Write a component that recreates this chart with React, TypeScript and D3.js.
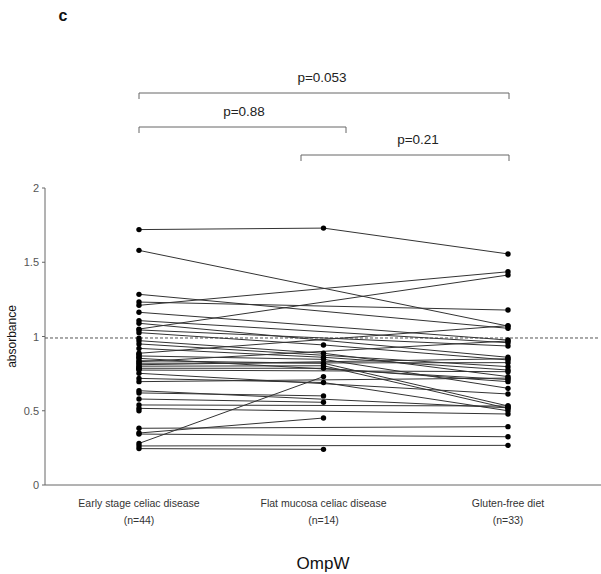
import React from "react";
import * as d3 from "d3";

const groups = ["Early stage celiac disease", "Flat mucosa celiac disease", "Gluten-free diet"];
const groupN = ["(n=44)", "(n=14)", "(n=33)"];
const yTicks = [0, 0.5, 1, 1.5, 2];
const yTickLabels = ["0", "0.5", "1", "1.5", "2"];
const cutoff = 0.99;

const early = [1.72, 1.58, 1.284, 1.232, 1.21, 1.163, 1.107, 1.089, 1.05, 1.044, 1.026, 0.988, 0.972, 0.95, 0.92, 0.887, 0.869, 0.853, 0.837, 0.82, 0.80, 0.786, 0.774, 0.752, 0.718, 0.696, 0.635, 0.62, 0.579, 0.539, 0.516, 0.50, 0.382, 0.35, 0.343, 0.28, 0.263, 0.245, 0.81, 0.79, 0.83, 0.86, 0.78, 0.88];
const flat = [1.73, null, null, null, null, null, null, null, null, null, 0.943, null, 0.887, null, 0.86, null, 0.846, null, 0.82, null, 0.803, 0.786, null, null, 0.69, null, null, 0.60, 0.557, null, null, null, null, 0.451, null, 0.73, null, 0.24, null, null, null, null, null, null];
const gf = [1.556, 1.07, 1.055, 1.178, 1.436, 0.976, 0.958, 0.86, 1.414, 0.936, 0.842, null, 0.73, 0.797, 0.774, 1.073, 0.651, 0.71, 0.532, 0.824, 0.516, 0.696, 0.763, 0.613, 0.50, 0.72, 0.52, null, null, 0.532, 0.478, null, 0.393, null, 0.325, null, 0.267, null, 0.85, null, 0.97, null, null, null];

const comparisons = [
  { from: 0, to: 2, label: "p=0.053", level: 0 },
  { from: 0, to: 1, label: "p=0.88", level: 1 },
  { from: 1, to: 2, label: "p=0.21", level: 2 },
];

export default function App() {
  const W = 601, H = 574;
  const x = d3.scalePoint<number>().domain([0, 1, 2]).range([139, 508]);
  const y = d3.scaleLinear().domain([0, 2]).range([485, 188]);
  const axisX = 45;
  const font = "Liberation Sans, Arial, sans-serif";

  const subjects = early.map((e, i) => {
    const pts: [number, number][] = [];
    const vals = [e, flat[i], gf[i]];
    vals.forEach((v, g) => { if (v != null) pts.push([x(g)!, y(v as number)]); });
    return pts;
  });
  const line = d3.line();

  const bracketY = [93, 127, 155];
  const bracketEnds: [number, number][] = [[139, 509], [139, 346], [301, 509]];
  const labelX = [322, 244, 418];

  return (
    <svg width={W} height={H} style={{ position: "absolute", left: 0, top: 0, background: "#fff" }} fontFamily={font}>
      <text x={63} y={21} fontSize={16} fontWeight="bold" textAnchor="middle" fill="#111">c</text>

      {comparisons.map((c, i) => {
        const [x1, x2] = bracketEnds[i];
        const by = bracketY[c.level];
        return (
          <g key={i}>
            <path d={`M${x1},${by + 6}V${by}H${x2}V${by + 6}`} fill="none" stroke="#666" strokeWidth={1} />
            <text x={labelX[i]} y={by - 11} fontSize={13.5} textAnchor="middle" fill="#222">{c.label}</text>
          </g>
        );
      })}

      {/* axes */}
      <line x1={axisX} x2={axisX} y1={y(2)} y2={y(0)} stroke="#666" />
      <line x1={axisX} x2={601} y1={y(0)} y2={y(0)} stroke="#666" />
      {yTicks.map((t, i) => (
        <g key={t}>
          <line x1={axisX - 3} x2={axisX} y1={y(t)} y2={y(t)} stroke="#666" />
          <text x={39} y={y(t) + 4} fontSize={11} textAnchor="end" fill="#555">{yTickLabels[i]}</text>
        </g>
      ))}
      <text transform={`translate(16,${y(1)}) rotate(-90)`} fontSize={12} textAnchor="middle" fill="#111">absorbance</text>

      <line x1={axisX} x2={598} y1={y(cutoff)} y2={y(cutoff)} stroke="#555" strokeDasharray="3,2" strokeWidth={1} />

      {subjects.map((pts, i) => pts.length > 1 ? (
        <path key={i} d={line(pts)!} fill="none" stroke="#333" strokeWidth={1} />
      ) : null)}
      {subjects.map((pts, i) => pts.map((p, j) => (
        <circle key={`${i}-${j}`} cx={p[0]} cy={p[1]} r={2.7} fill="#000" />
      )))}

      {groups.map((g, i) => (
        <g key={g}>
          <text x={x(i)} y={507} fontSize={10.5} textAnchor="middle" fill="#333">{g}</text>
          <text x={x(i)} y={524} fontSize={10.5} textAnchor="middle" fill="#333">{groupN[i]}</text>
        </g>
      ))}
      <text x={323} y={569} fontSize={17} textAnchor="middle" fill="#111">OmpW</text>
    </svg>
  );
}
